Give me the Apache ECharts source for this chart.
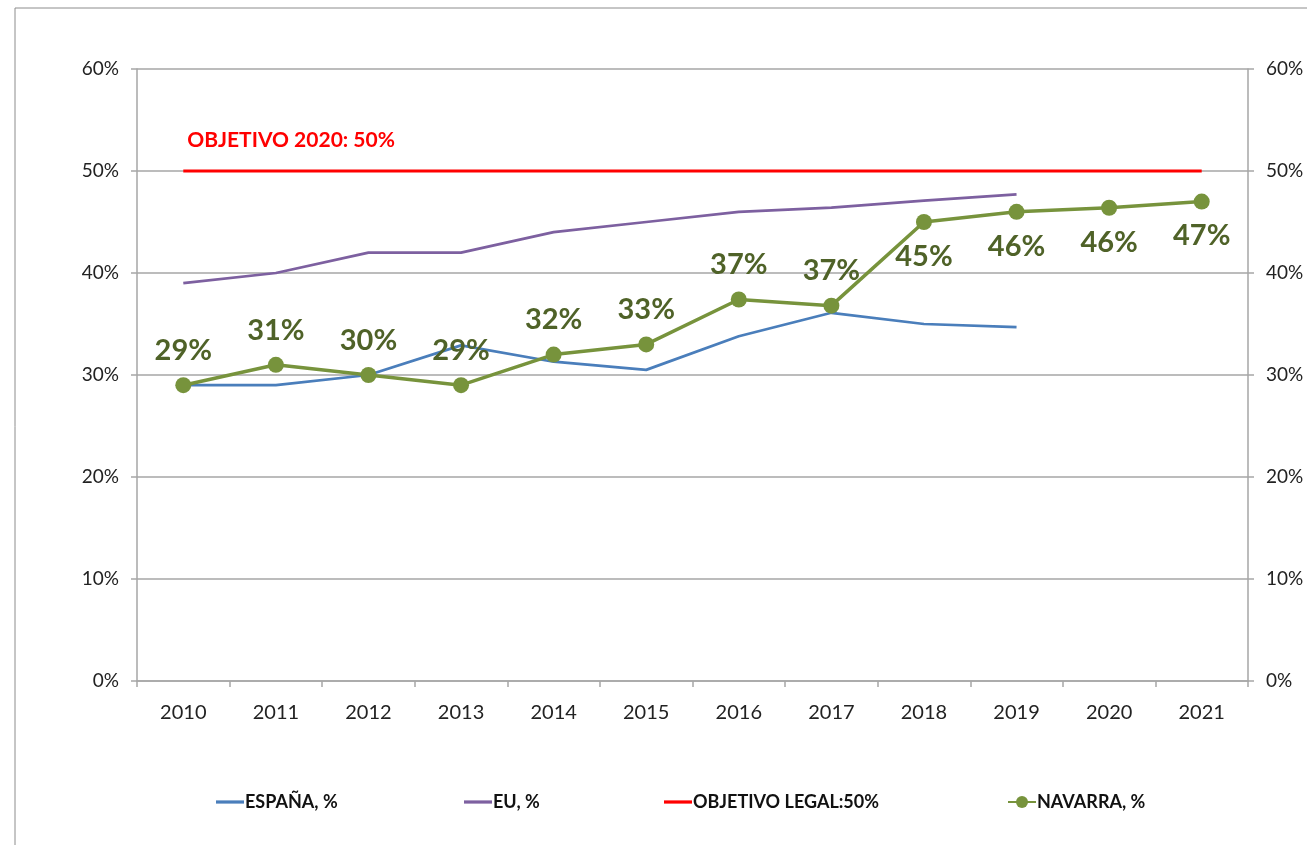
<!DOCTYPE html>
<html>
<head>
<meta charset="utf-8">
<script src="https://cdn.jsdelivr.net/npm/echarts@6/dist/echarts.min.js"></script>
<style>
  html, body { margin: 0; padding: 0; background: #fff; }
  #chart { width: 1307px; height: 845px; }
</style>
</head>
<body>
<div id="chart"></div>
<script>
  const years = ['2010', '2011', '2012', '2013', '2014', '2015', '2016', '2017', '2018', '2019', '2020', '2021'];
  const espana = [29, 29, 30, 32.9, 31.3, 30.5, 33.8, 36.1, 35.0, 34.7, null, null];
  const eu = [39, 40, 42, 42, 44, 45, 46, 46.4, 47.1, 47.7, null, null];
  const objetivo = [50, 50, 50, 50, 50, 50, 50, 50, 50, 50, 50, 50];
  const navarra = [29, 31, 30, 29, 32, 33, 37.4, 36.8, 45, 46, 46.4, 47];
  const navarraLabels = ['29%', '31%', '30%', '29%', '32%', '33%', '37%', '37%', '45%', '46%', '46%', '47%'];
  const seriesNames = ['ESPAÑA, %', 'EU, %', 'OBJETIVO LEGAL:50%', 'NAVARRA, %'];
  const yTicks = [0, 10, 20, 30, 40, 50, 60];

  const font = 'Lato, "Open Sans", sans-serif';
  const lineIcon = 'path://M0,0 H26 V3 H0 Z';
  const legendLeft = [211, 459, 659, 1002];
  const chart = echarts.init(document.getElementById('chart'));

  const yAxisBase = {
    type: 'value',
    min: yTicks[0],
    max: yTicks[yTicks.length - 1],
    interval: 10,
    axisLine: { show: true, lineStyle: { color: '#a6a6a6', width: 1.5 } },
    axisTick: { show: true, length: 6, lineStyle: { color: '#a6a6a6', width: 1.5 } },
    axisLabel: { formatter: '{value}%', color: '#222', fontSize: 19, fontFamily: font, margin: 18 },
    splitLine: { show: true, lineStyle: { color: '#a6a6a6', width: 1.5 } },
  };

  const legends = seriesNames.map((name, i) => ({
    top: 788,
    left: legendLeft[i],
    itemWidth: 28,
    itemHeight: i === 3 ? 15 : 12,
    textStyle: { fontFamily: font, fontSize: 18, fontWeight: 'bold', color: '#111', padding: [0, 0, 0, -4] },
    data: [i === 3 ? { name } : { name, icon: lineIcon }],
  }));

  const option = {
    backgroundColor: '#fff',
    animation: false,
    graphic: [
      { type: 'line', shape: { x1: 15, y1: 8, x2: 1307, y2: 8 }, style: { stroke: '#8c8c8c', lineWidth: 1 } },
      { type: 'line', shape: { x1: 15, y1: 8, x2: 15, y2: 845 }, style: { stroke: '#8c8c8c', lineWidth: 1 } },
    ],
    grid: { left: 137, right: 59, top: 69, bottom: 164, containLabel: false },
    legend: legends,
    xAxis: {
      type: 'category',
      data: years,
      boundaryGap: true,
      axisLine: { show: true, lineStyle: { color: '#a6a6a6', width: 1.5 } },
      axisTick: { show: true, length: 6, lineStyle: { color: '#a6a6a6', width: 1.5 } },
      axisLabel: { color: '#222', fontSize: 20, fontFamily: font, margin: 22 },
    },
    yAxis: [
      Object.assign({}, yAxisBase, { position: 'left' }),
      Object.assign({}, yAxisBase, { position: 'right', splitLine: { show: false } }),
    ],
    series: [
      {
        name: seriesNames[0],
        type: 'line',
        data: espana,
        symbol: 'none',
        lineStyle: { color: '#4a7ebb', width: 2.75 },
        itemStyle: { color: '#4a7ebb' },
        z: 2,
      },
      {
        name: seriesNames[1],
        type: 'line',
        data: eu,
        symbol: 'none',
        lineStyle: { color: '#7d60a0', width: 2.75 },
        itemStyle: { color: '#7d60a0' },
        z: 2,
      },
      {
        name: seriesNames[2],
        type: 'line',
        data: objetivo,
        symbol: 'none',
        lineStyle: { color: '#ff0000', width: 3 },
        itemStyle: { color: '#ff0000' },
        markPoint: {
          symbol: 'circle',
          symbolSize: 0,
          data: [{
            coord: [years[0], objetivo[0]],
            label: {
              show: true,
              formatter: 'OBJETIVO 2020: 50%',
              position: 'top',
              align: 'left',
              distance: 20,
              offset: [4, 0],
              color: '#ff0000',
              fontFamily: font,
              fontWeight: 'bold',
              fontSize: 21,
            },
          }],
        },
        z: 2,
      },
      {
        name: seriesNames[3],
        type: 'line',
        data: navarra.map((v, i) => ({
          value: v,
          label: { position: i >= 8 ? 'bottom' : 'top' },
        })),
        symbol: 'circle',
        symbolSize: 16,
        lineStyle: { color: '#77933c', width: 3.5 },
        itemStyle: { color: '#77933c' },
        label: {
          show: true,
          distance: 12,
          formatter: (p) => navarraLabels[p.dataIndex],
          color: '#4f6228',
          fontFamily: font,
          fontWeight: 'bold',
          fontSize: 29,
        },
        z: 3,
      },
    ],
  };

  chart.setOption(option);
</script>
</body>
</html>
